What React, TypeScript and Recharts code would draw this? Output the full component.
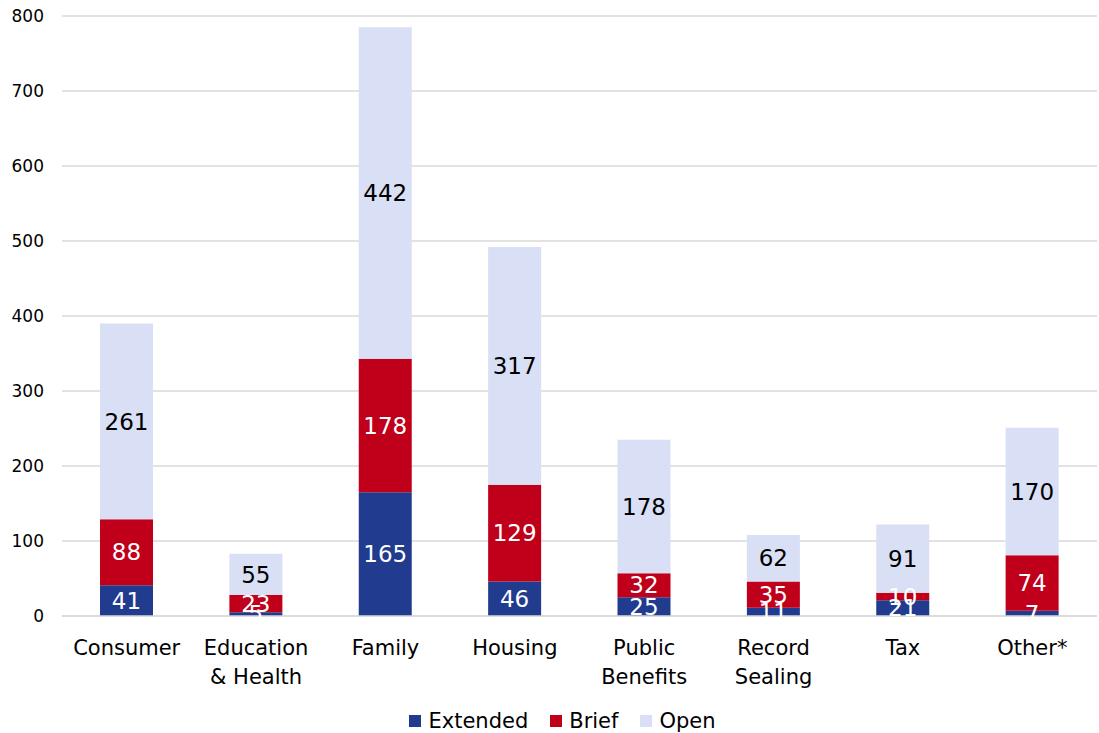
import React from 'react';
import { BarChart, Bar, XAxis, YAxis, CartesianGrid, Legend, LabelList } from 'recharts';

const categories = ['Consumer', 'Education & Health', 'Family', 'Housing', 'Public Benefits', 'Record Sealing', 'Tax', 'Other*'];
const tickLines = [['Consumer'], ['Education', '& Health'], ['Family'], ['Housing'], ['Public', 'Benefits'], ['Record', 'Sealing'], ['Tax'], ['Other*']];
const extended = [41, 5, 165, 46, 25, 11, 21, 7];
const brief = [88, 23, 178, 129, 32, 35, 10, 74];
const open = [261, 55, 442, 317, 178, 62, 91, 170];
const yTicks = [0, 100, 200, 300, 400, 500, 600, 700, 800];
const seriesNames = ['Extended', 'Brief', 'Open'];

const COLORS = {
  extended: '#213b8f',
  brief: '#c0001a',
  open: '#d9dff5',
};
const legendColors = [COLORS.extended, COLORS.brief, COLORS.open];

const FONT = '"DejaVu Sans", sans-serif';

const data = categories.map((name, i) => ({
  name,
  extended: extended[i],
  brief: brief[i],
  open: open[i],
}));

const CategoryTick = ({ x, y, payload }: any) => {
  const idx = categories.indexOf(payload.value);
  const lines = tickLines[idx] || [payload.value];
  return (
    <g transform={`translate(${x},${y})`}>
      {lines.map((l, i) => (
        <text key={i} x={0} y={31 + i * 29} textAnchor="middle" fill="#000" fontSize={21} fontFamily={FONT}>
          {l}
        </text>
      ))}
    </g>
  );
};

const LegendContent = () => (
  <div style={{ display: 'flex', justifyContent: 'center', fontFamily: FONT, fontSize: 21, color: '#000', height: 24, lineHeight: '24px', paddingLeft: 28 }}>
    {seriesNames.map((n, i) => (
      <span key={n} style={{ display: 'flex', alignItems: 'center', marginRight: i < 2 ? 22 : 0 }}>
        <span style={{ display: 'inline-block', width: 12, height: 12, background: legendColors[i], marginRight: 7 }} />
        {n}
      </span>
    ))}
  </div>
);

export default function App() {
  return (
    <div style={{ position: 'absolute', left: 0, top: 0, width: 1099, height: 733, background: '#fff' }}>
      <BarChart width={1099} height={733} data={data} margin={{ top: 16, right: 2, left: 0, bottom: 0 }} barCategoryGap="20%">
        <CartesianGrid vertical={false} stroke="#d9d9d9" strokeWidth={1.5} />
        <XAxis
          dataKey="name"
          interval={0}
          tick={<CategoryTick />}
          tickLine={false}
          axisLine={{ stroke: '#d9d9d9', strokeWidth: 1.5 }}
          height={93}
        />
        <YAxis
          width={62}
          domain={[0, 800]}
          ticks={yTicks}
          axisLine={false}
          tickLine={false}
          tickMargin={12}
          tick={{ fill: '#000', fontSize: 17, fontFamily: FONT }}
        />
        <Legend verticalAlign="bottom" height={24} content={<LegendContent />} />
        <Bar dataKey="extended" name="Extended" stackId="a" fill={COLORS.extended} barSize={53} isAnimationActive={false}>
          <LabelList dataKey="extended" position="center" fill="#fff" fontSize={23} fontFamily={FONT} />
        </Bar>
        <Bar dataKey="brief" name="Brief" stackId="a" fill={COLORS.brief} barSize={53} isAnimationActive={false}>
          <LabelList dataKey="brief" position="center" fill="#fff" fontSize={23} fontFamily={FONT} />
        </Bar>
        <Bar dataKey="open" name="Open" stackId="a" fill={COLORS.open} barSize={53} isAnimationActive={false}>
          <LabelList dataKey="open" position="center" fill="#000" fontSize={23} fontFamily={FONT} />
        </Bar>
      </BarChart>
    </div>
  );
}
